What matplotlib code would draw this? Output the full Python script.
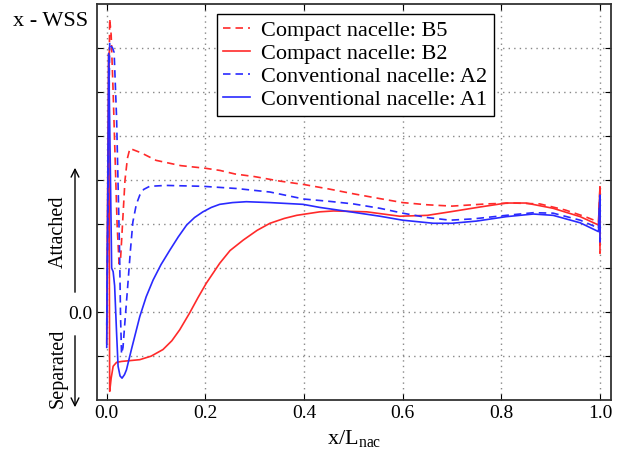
import matplotlib
matplotlib.use("Agg")
import matplotlib.pyplot as plt

plt.rcParams['font.family'] = ['Liberation Serif', 'DejaVu Serif']
plt.rcParams['mathtext.fontset'] = 'stix'

# compact nacelle B5 (red dashed)
x_b5 = [0.0, 0.003, 0.006, 0.009, 0.013, 0.017, 0.021, 0.025, 0.028, 0.032, 0.037,
        0.042, 0.047, 0.07, 0.1, 0.15, 0.2, 0.23, 0.26, 0.3, 0.35, 0.4, 0.45, 0.5,
        0.554, 0.6, 0.65, 0.7, 0.77, 0.824, 0.878, 0.93, 0.97, 0.997, 1.0, 1.0]
y_b5 = [-0.4, 3.5, 6.67, 6.3, 5.0, 3.5, 2.0, 1.1, 1.2, 2.0, 3.0,
        3.5, 3.72, 3.62, 3.45, 3.33, 3.27, 3.22, 3.14, 3.08, 2.98, 2.9, 2.8, 2.69,
        2.58, 2.49, 2.44, 2.41, 2.46, 2.48, 2.46, 2.32, 2.17, 2.05, 2.85, 1.34]

# compact nacelle B2 (red solid)
x_b2 = [0.0, 0.002, 0.004, 0.006, 0.009, 0.013, 0.02, 0.03, 0.067, 0.09, 0.114,
        0.132, 0.148, 0.168, 0.185, 0.202, 0.229, 0.25, 0.277, 0.305, 0.331, 0.36,
        0.385, 0.432, 0.46, 0.527, 0.594, 0.65, 0.696, 0.757, 0.81, 0.85, 0.905,
        0.96, 0.997, 1.0, 1.0]
y_b2 = [-0.7, 3.0, 5.88, -1.8, -1.5, -1.23, -1.14, -1.12, -1.08, -1.0, -0.85,
        -0.65, -0.4, -0.02, 0.33, 0.66, 1.11, 1.4, 1.64, 1.86, 2.02, 2.13,
        2.2, 2.28, 2.3, 2.28, 2.18, 2.2, 2.28, 2.39, 2.48, 2.48, 2.36,
        2.17, 1.98, 2.85, 1.34]

# conventional nacelle A2 (blue dashed)
x_a2 = [0.0, 0.003, 0.006, 0.009, 0.012, 0.015, 0.02, 0.023, 0.026, 0.028, 0.03,
        0.033, 0.037, 0.043, 0.048, 0.053, 0.06, 0.067, 0.075, 0.087, 0.12, 0.195,
        0.263, 0.331, 0.4, 0.45, 0.5, 0.554, 0.6, 0.65, 0.696, 0.743, 0.81, 0.865,
        0.905, 0.96, 0.997, 1.0, 1.0]
y_a2 = [-0.3, 3.0, 6.14, 6.05, 6.0, 5.9, 4.4, 2.9, 1.4, -0.1, -0.95,
        -0.8, -0.2, 0.66, 1.4, 2.05, 2.45, 2.66, 2.79, 2.86, 2.88, 2.86,
        2.81, 2.73, 2.57, 2.52, 2.46, 2.36, 2.25, 2.15, 2.09, 2.12, 2.2, 2.26,
        2.25, 2.09, 1.91, 2.66, 1.6]

# conventional nacelle A1 (blue solid)
x_a1 = [0.0, 0.002, 0.004, 0.007, 0.01, 0.013, 0.016, 0.02, 0.023, 0.027, 0.031,
        0.036, 0.04, 0.05, 0.067, 0.08, 0.094, 0.11, 0.128, 0.145, 0.162, 0.178,
        0.195, 0.212, 0.229, 0.255, 0.283, 0.331, 0.398, 0.432, 0.5, 0.554, 0.6,
        0.662, 0.7, 0.75, 0.81, 0.865, 0.905, 0.96, 0.997, 1.0, 1.0]
y_a1 = [-0.8, 2.5, 5.88, 3.5, 1.0, 0.92, 0.6, -0.48, -1.23, -1.45, -1.5,
        -1.42, -1.31, -0.85, -0.1, 0.35, 0.73, 1.08, 1.41, 1.71, 1.98, 2.15,
        2.28, 2.38, 2.45, 2.49, 2.51, 2.49, 2.45, 2.38, 2.27, 2.18, 2.09,
        2.02, 2.02, 2.07, 2.17, 2.23, 2.2, 2.03, 1.83, 2.66, 1.6]

red = '#ff2a2a'
blue = '#2a2aff'

fig = plt.figure(figsize=(6.17, 4.61), dpi=100)
ax = fig.add_axes([0.157, 0.132, 0.833, 0.859])

ax.plot(x_b5, y_b5, color=red, lw=1.2, dashes=(4.5, 3), label='Compact nacelle: B5')
ax.plot(x_b2, y_b2, color=red, lw=1.2, label='Compact nacelle: B2')
ax.plot(x_a2, y_a2, color=blue, lw=1.2, dashes=(4.5, 3), label='Conventional nacelle: A2')
ax.plot(x_a1, y_a1, color=blue, lw=1.2, label='Conventional nacelle: A1')

ax.set_xlim(-0.02, 1.022)
ax.set_ylim(-2, 7)
ax.set_xticks([0, 0.2, 0.4, 0.6, 0.8, 1.0])
ax.set_xticklabels(['0.0', '0.2', '0.4', '0.6', '0.8', '1.0'])
ax.set_yticks(range(-1, 7))
ax.set_yticklabels(['0.0' if v == 0 else '' for v in range(-1, 7)])
ax.tick_params(direction='in', top=True, right=True, labelsize=14, length=4)
ax.grid(True, linestyle=(0, (1, 3)), color='#888888', lw=1)
for s in ax.spines.values():
    s.set_linewidth(1.3)
    s.set_color('#333333')

ax.set_xlabel(r'x/L$_{\mathregular{nac}}$', fontsize=16, labelpad=4)

leg = ax.legend(loc='upper left', bbox_to_anchor=(0.233, 0.975), borderaxespad=0,
                fontsize=16, fancybox=False, edgecolor='black', framealpha=1,
                handlelength=1.2, handletextpad=0.5, labelspacing=0.1,
                borderpad=0.3)
leg.get_frame().set_linewidth(1.0)

fig.text(13 / 617, 1 - 22 / 461, 'x - WSS', fontsize=16, va='center', ha='left')
fig.text(58 / 617, 1 - 232 / 461, 'Attached', fontsize=14.5, rotation=90,
         va='center', ha='center')
fig.text(58 / 617, 1 - 368 / 461, 'Separated', fontsize=14.5, rotation=90,
         va='center', ha='center')
ax_x = 75 / 617
fig.add_artist(matplotlib.patches.FancyArrowPatch(
    (ax_x, 1 - 295 / 461), (ax_x, 1 - 165 / 461), transform=fig.transFigure,
    arrowstyle='->', mutation_scale=14, lw=1.0, color='black'))
fig.add_artist(matplotlib.patches.FancyArrowPatch(
    (ax_x, 1 - 333 / 461), (ax_x, 1 - 410 / 461), transform=fig.transFigure,
    arrowstyle='->', mutation_scale=14, lw=1.0, color='black'))

fig.savefig('out.png', dpi=100)
